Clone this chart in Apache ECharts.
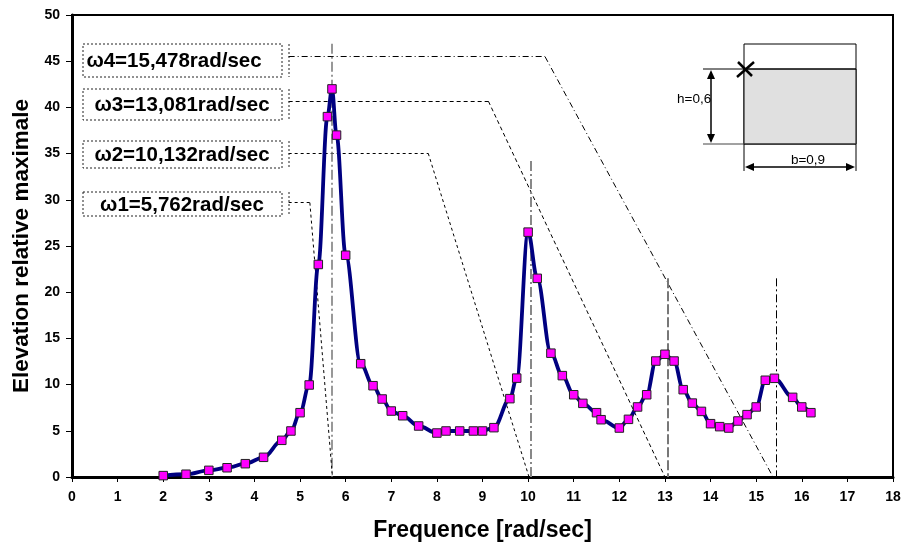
<!DOCTYPE html>
<html>
<head>
<meta charset="utf-8">
<script src="https://cdn.jsdelivr.net/npm/echarts@6/dist/echarts.min.js"></script>
<style>html,body{margin:0;padding:0;background:#fff}#c{width:902px;height:547px}</style>
</head>
<body>
<div id="c"></div>
<script>
// ---- data ----
const freq = [2, 2.5, 3, 3.4, 3.8, 4.2, 4.6, 4.8, 5.0, 5.2, 5.4, 5.6, 5.7, 5.8, 6.0, 6.33, 6.6, 6.8, 7.0, 7.25, 7.6, 8.0, 8.2, 8.5, 8.8, 9.0, 9.25, 9.6, 9.75, 10.0, 10.2, 10.5, 10.75, 11.0, 11.2, 11.5, 11.6, 12.0, 12.2, 12.4, 12.6, 12.8, 13.0, 13.2, 13.4, 13.6, 13.8, 14.0, 14.2, 14.4, 14.6, 14.8, 15.0, 15.2, 15.4, 15.8, 16.0, 16.2];
const elevation = [0.15, 0.3, 0.72, 1.0, 1.44, 2.13, 3.97, 4.98, 6.96, 9.96, 23.0, 39.0, 42.0, 37.0, 24.0, 12.26, 9.88, 8.44, 7.14, 6.63, 5.52, 4.76, 4.98, 4.98, 4.98, 4.98, 5.34, 8.48, 10.7, 26.5, 21.5, 13.4, 10.97, 8.9, 7.97, 6.96, 6.2, 5.3, 6.24, 7.58, 8.9, 12.55, 13.28, 12.55, 9.45, 8.0, 7.1, 5.77, 5.45, 5.3, 6.06, 6.75, 7.58, 10.47, 10.68, 8.62, 7.58, 6.96];
const omegaLabels = ['ω4=15,478rad/sec', 'ω3=13,081rad/sec', 'ω2=10,132rad/sec', 'ω1=5,762rad/sec'];
// vertical reference lines (x position, top y)
const omegaX = [15.45, 13.07, 10.06, 5.69];
const omegaTop = [21.5, 21.5, 34.2, 46.9];
// connector: level y of horizontal, x where slant starts, x where it hits axis
const connLevel = [45.5, 40.66, 35.03, 29.69];
const connBend = [10.37, 9.13, 7.81, 5.215];
const connEnd = [15.37, 13.0, 10.02, 5.71];
const connStart = 4.75;
const xTicks = {min: 0, max: 18, interval: 1};
const yTicks = {min: 0, max: 50, interval: 5};

const chart = echarts.init(document.getElementById('c'));
const FONT = '"Liberation Sans", Arial, sans-serif';

const connStyles = [
  {type: [6, 3, 1, 3], color: '#000', width: 1},
  {type: [4, 3], color: '#000', width: 1},
  {type: [3, 3], color: '#000', width: 1},
  {type: [3, 3], color: '#000', width: 1}
];
const vertStyles = [
  {type: [8, 3, 2, 3], color: '#000', width: 1},
  {type: [10, 3], color: '#777', width: 2},
  {type: [10, 3, 2, 3], color: '#888', width: 2},
  {type: [10, 3, 2, 3], color: '#777', width: 1.5}
];
const markData = [];
for (let i = 0; i < 4; i++) {
  markData.push([{coord: [omegaX[i], omegaTop[i]], lineStyle: vertStyles[i]}, {coord: [omegaX[i], 0]}]);
  markData.push([{coord: [connStart, connLevel[i]], lineStyle: connStyles[i]}, {coord: [connBend[i], connLevel[i]]}]);
  markData.push([{coord: [connBend[i], connLevel[i]], lineStyle: connStyles[i]}, {coord: [connEnd[i], 0]}]);
}

chart.setOption({
  animation: false,
  grid: {left: 72, right: 9, top: 15, bottom: 70, containLabel: false, outerBoundsMode: 'none',
    show: true, borderColor: '#000', borderWidth: 2, backgroundColor: '#fff'},
  xAxis: {
    type: 'value', min: xTicks.min, max: xTicks.max, interval: xTicks.interval,
    name: 'Frequence [rad/sec]', nameLocation: 'middle', nameGap: 42,
    nameTextStyle: {fontFamily: FONT, fontWeight: 'bold', fontSize: 23, color: '#000'},
    axisLine: {lineStyle: {color: '#000', width: 3}},
    axisTick: {show: true, length: 5, inside: false, lineStyle: {color: '#000', width: 1}},
    axisLabel: {fontFamily: FONT, fontWeight: 'bold', fontSize: 14, color: '#000', margin: 13},
    splitLine: {show: false}
  },
  yAxis: {
    type: 'value', min: yTicks.min, max: yTicks.max, interval: yTicks.interval,
    name: 'Elevation relative maximale', nameLocation: 'middle', nameGap: 33, nameRotate: 90,
    nameTextStyle: {fontFamily: FONT, fontWeight: 'bold', fontSize: 22.5, color: '#000'},
    axisLine: {show: true, lineStyle: {color: '#000', width: 3}},
    axisTick: {show: true, length: 6, lineStyle: {color: '#000', width: 1}},
    axisLabel: {fontFamily: FONT, fontWeight: 'bold', fontSize: 14, color: '#000', margin: 12},
    splitLine: {show: false}
  },
  series: [{
    type: 'line',
    data: freq.map((f, i) => [f, elevation[i]]),
    smooth: 0.35,
    smoothMonotone: 'x',
    lineStyle: {color: '#000080', width: 3.8},
    symbol: 'rect', symbolSize: 8.5,
    itemStyle: {color: '#ff00ff', borderColor: '#222', borderWidth: 1},
    z: 5,
    markLine: {
      silent: true, symbol: ['none', 'none'], label: {show: false}, animation: false,
      data: markData, z: 3
    }
  }],
  graphic: []
});

// annotation boxes & inset drawn as decorations
const boxY = [[44, 77], [89, 120], [141, 168], [192, 216]];
const g = [];
for (let i = 0; i < 4; i++) {
  const [y0, y1] = boxY[i];
  g.push({type: 'rect', shape: {x: 83, y: y0, width: 199, height: y1 - y0},
    style: {fill: '#fff', stroke: '#222', lineWidth: 1, lineDash: [2, 2]}, z: 10});
  g.push({type: 'line', shape: {x1: 289, y1: y0, x2: 289, y2: y1},
    style: {stroke: '#222', lineWidth: 1, lineDash: [2, 2]}, z: 10});
  g.push({type: 'text', x: i === 0 ? 174 : 182, y: (y0 + y1) / 2 + 1,
    style: {text: omegaLabels[i], fontFamily: FONT, fontWeight: 'bold', fontSize: 20.5, fill: '#000',
      textAlign: 'center', textVerticalAlign: 'middle'}, z: 11});
}
// inset cross-section sketch
g.push({type: 'rect', shape: {x: 744, y: 44, width: 112, height: 100}, style: {fill: '#fff', stroke: '#000', lineWidth: 1}, z: 10});
g.push({type: 'rect', shape: {x: 744, y: 69, width: 112, height: 75}, style: {fill: '#e0e0e0', stroke: '#000', lineWidth: 1}, z: 10});
g.push({type: 'line', shape: {x1: 703, y1: 69, x2: 856, y2: 69}, style: {stroke: '#000', lineWidth: 1}, z: 11});
g.push({type: 'line', shape: {x1: 703, y1: 144, x2: 856, y2: 144}, style: {stroke: '#444', lineWidth: 1}, z: 11});
g.push({type: 'line', shape: {x1: 744, y1: 144, x2: 744, y2: 171}, style: {stroke: '#000', lineWidth: 1}, z: 11});
g.push({type: 'line', shape: {x1: 856, y1: 144, x2: 856, y2: 171}, style: {stroke: '#000', lineWidth: 1}, z: 11});
g.push({type: 'line', shape: {x1: 711, y1: 72, x2: 711, y2: 141}, style: {stroke: '#000', lineWidth: 1.5}, z: 11});
g.push({type: 'polygon', shape: {points: [[711, 70], [707, 79], [715, 79]]}, style: {fill: '#000'}, z: 11});
g.push({type: 'polygon', shape: {points: [[711, 143], [707, 134], [715, 134]]}, style: {fill: '#000'}, z: 11});
g.push({type: 'line', shape: {x1: 747, y1: 167, x2: 853, y2: 167}, style: {stroke: '#000', lineWidth: 1.5}, z: 11});
g.push({type: 'polygon', shape: {points: [[745, 167], [754, 163], [754, 171]]}, style: {fill: '#000'}, z: 11});
g.push({type: 'polygon', shape: {points: [[855, 167], [846, 163], [846, 171]]}, style: {fill: '#000'}, z: 11});
g.push({type: 'text', x: 677, y: 99, style: {text: 'h=0,6', fontFamily: FONT, fontSize: 13.5, fill: '#000', textVerticalAlign: 'middle'}, z: 12});
g.push({type: 'text', x: 808, y: 160, style: {text: 'b=0,9', fontFamily: FONT, fontSize: 13.5, fill: '#000', textAlign: 'center', textVerticalAlign: 'middle'}, z: 12});
g.push({type: 'line', shape: {x1: 737, y1: 77, x2: 754, y2: 62}, style: {stroke: '#000', lineWidth: 2.5}, z: 12});
g.push({type: 'line', shape: {x1: 738, y1: 62, x2: 752, y2: 76}, style: {stroke: '#000', lineWidth: 2.5}, z: 12});
chart.setOption({graphic: g});
</script>
</body>
</html>
